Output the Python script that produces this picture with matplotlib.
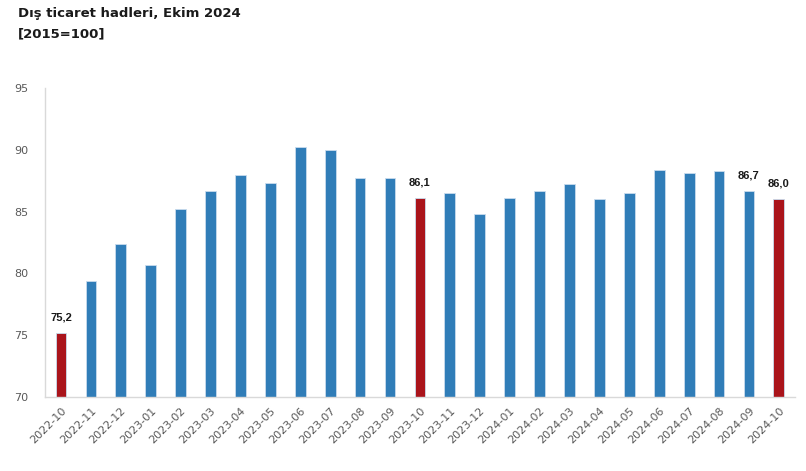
import matplotlib
matplotlib.use('Agg')
import matplotlib.pyplot as plt
import numpy as np

# Months and index values
months = ["2022-10", "2022-11", "2022-12", "2023-01", "2023-02", "2023-03", "2023-04",
          "2023-05", "2023-06", "2023-07", "2023-08", "2023-09", "2023-10", "2023-11",
          "2023-12", "2024-01", "2024-02", "2024-03", "2024-04", "2024-05", "2024-06",
          "2024-07", "2024-08", "2024-09", "2024-10"]
values = [75.2, 79.4, 82.4, 80.7, 85.2, 86.7, 88.0, 87.3, 90.2, 90.0, 87.7, 87.7, 86.1,
          86.5, 84.8, 86.1, 86.7, 87.2, 86.0, 86.5, 88.4, 88.1, 88.3, 86.7, 86.0]
highlight = ["2022-10", "2023-10", "2024-10"]
labelled = ["2022-10", "2023-10", "2024-09", "2024-10"]

blue = '#307DB8'
red = '#AA141B'

fig = plt.figure(figsize=(8.06, 4.71), dpi=100)
ax = fig.add_axes([0.056, 0.157, 0.930, 0.656])

x = np.arange(len(months))
cols = [red if m in highlight else blue for m in months]
ax.bar(x, values, width=0.36, color=cols, edgecolor='#c9dcee', linewidth=0.6, zorder=2)

for xi, m, v in zip(x, months, values):
    if m in labelled:
        ax.text(xi, v + 0.85, f"{v:.1f}".replace('.', ','), ha='center', va='bottom',
                fontsize=8, fontweight='bold', color='#1a1a1a', family='Liberation Sans')

ax.set_ylim(70, 95)
ax.set_xlim(-0.53, len(months) - 0.47)
ax.set_yticks([70, 75, 80, 85, 90, 95])
ax.set_xticks(x)
ax.set_xticklabels(months, rotation=45, ha='right', rotation_mode='anchor')
ax.tick_params(axis='both', length=0, labelsize=8, labelcolor='#595959')
ax.tick_params(axis='x', pad=6)
ax.tick_params(axis='y', pad=12)

for s in ['top', 'right']:
    ax.spines[s].set_visible(False)
for s in ['left', 'bottom']:
    ax.spines[s].set_color('#d9d9d9')
    ax.spines[s].set_linewidth(1)

fig.text(0.022, 0.985, "Dış ticaret hadleri, Ekim 2024\n[2015=100]", ha='left', va='top',
         fontsize=9.5, fontweight='bold', color='#1a1a1a', linespacing=1.75)

fig.savefig('out.png', dpi=100)
